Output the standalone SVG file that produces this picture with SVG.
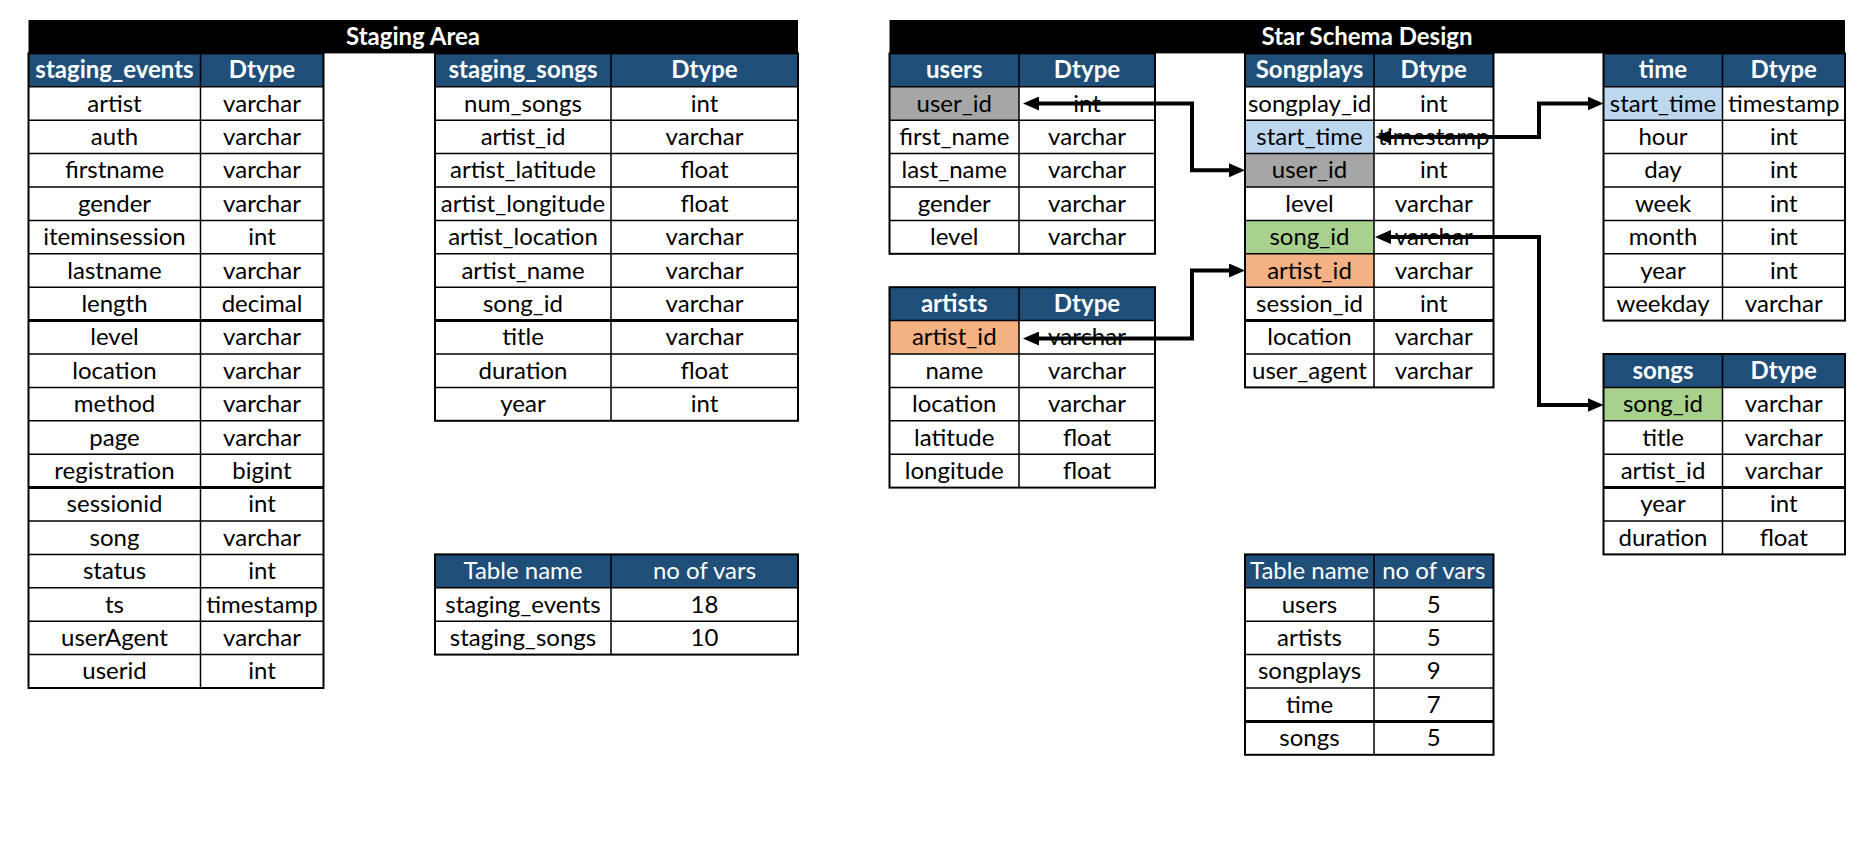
<svg xmlns="http://www.w3.org/2000/svg" width="1875" height="858" viewBox="0 0 1875 858">
<style>
.bg{fill:#fff}
.bar{fill:#000}
.hd{fill:#1F4E79}
.gry{fill:#A6A6A6}
.blu{fill:#BDD7EE}
.grn{fill:#A9D18E}
.org{fill:#F4B183}
.ln{stroke:#000;stroke-width:1.5;fill:none}
.tk{stroke:#000;stroke-width:3;fill:none}
.ob{stroke:#000;stroke-width:2;fill:none}
text{font-family:Lato,"Liberation Sans",sans-serif;font-size:24px;text-anchor:middle;fill:#000}
.th{fill:#fff;font-weight:bold}
.tw{fill:#fff}
.conn{stroke:#000;stroke-width:4;fill:none;marker-start:url(#ah);marker-end:url(#ah)}
</style>
<defs>
<marker id="ah" viewBox="0 0 16 14" markerWidth="16" markerHeight="14" markerUnits="userSpaceOnUse" refX="4" refY="7" orient="auto-start-reverse">
<polygon points="0,0 16,7 0,14" fill="#000"/>
</marker>
</defs>
<rect class="bg" x="0" y="0" width="1875" height="858"/>

<g id="staging-title">
<rect class="bar" x="28.5" y="20" width="769.5" height="33.4"/>
<text class="th" x="413" y="44.7">Staging Area</text>
</g>

<g id="star-title">
<rect class="bar" x="889.5" y="20" width="955.5" height="33.4"/>
<text class="th" x="1367" y="44.7">Star Schema Design</text>
</g>

<g id="staging_events">
<rect class="hd" x="28.5" y="53.4" width="295" height="33.4"/>
<path class="ln" d="M28.5 86.8H323.5M28.5 120.2H323.5M28.5 153.6H323.5M28.5 187H323.5M28.5 220.4H323.5M28.5 253.8H323.5M28.5 287.2H323.5M28.5 354H323.5M28.5 387.4H323.5M28.5 420.8H323.5M28.5 454.2H323.5M28.5 521H323.5M28.5 554.4H323.5M28.5 587.8H323.5M28.5 621.2H323.5M28.5 654.6H323.5M200.5 53.4V688"/>
<path class="tk" d="M28.5 320.6H323.5M28.5 487.6H323.5"/>
<rect class="ob" x="28.5" y="53.4" width="295" height="634.6"/>
<text class="th" x="114.5" y="78.1">staging_events</text><text class="th" x="262" y="78.1">Dtype</text>
<text x="114.5" y="111.5">artist</text><text x="262" y="111.5">varchar</text>
<text x="114.5" y="144.9">auth</text><text x="262" y="144.9">varchar</text>
<text x="114.5" y="178.3">firstname</text><text x="262" y="178.3">varchar</text>
<text x="114.5" y="211.7">gender</text><text x="262" y="211.7">varchar</text>
<text x="114.5" y="245.1">iteminsession</text><text x="262" y="245.1">int</text>
<text x="114.5" y="278.5">lastname</text><text x="262" y="278.5">varchar</text>
<text x="114.5" y="311.9">length</text><text x="262" y="311.9">decimal</text>
<text x="114.5" y="345.3">level</text><text x="262" y="345.3">varchar</text>
<text x="114.5" y="378.7">location</text><text x="262" y="378.7">varchar</text>
<text x="114.5" y="412.1">method</text><text x="262" y="412.1">varchar</text>
<text x="114.5" y="445.5">page</text><text x="262" y="445.5">varchar</text>
<text x="114.5" y="478.9">registration</text><text x="262" y="478.9">bigint</text>
<text x="114.5" y="512.3">sessionid</text><text x="262" y="512.3">int</text>
<text x="114.5" y="545.7">song</text><text x="262" y="545.7">varchar</text>
<text x="114.5" y="579.1">status</text><text x="262" y="579.1">int</text>
<text x="114.5" y="612.5">ts</text><text x="262" y="612.5">timestamp</text>
<text x="114.5" y="645.9">userAgent</text><text x="262" y="645.9">varchar</text>
<text x="114.5" y="679.3">userid</text><text x="262" y="679.3">int</text>
</g>

<g id="staging_songs">
<rect class="hd" x="435" y="53.4" width="363" height="33.4"/>
<path class="ln" d="M435 86.8H798M435 120.2H798M435 153.6H798M435 187H798M435 220.4H798M435 253.8H798M435 287.2H798M435 354H798M435 387.4H798M611 53.4V420.8"/>
<path class="tk" d="M435 320.6H798"/>
<rect class="ob" x="435" y="53.4" width="363" height="367.4"/>
<text class="th" x="523" y="78.1">staging_songs</text><text class="th" x="704.5" y="78.1">Dtype</text>
<text x="523" y="111.5">num_songs</text><text x="704.5" y="111.5">int</text>
<text x="523" y="144.9">artist_id</text><text x="704.5" y="144.9">varchar</text>
<text x="523" y="178.3">artist_latitude</text><text x="704.5" y="178.3">float</text>
<text x="523" y="211.7">artist_longitude</text><text x="704.5" y="211.7">float</text>
<text x="523" y="245.1">artist_location</text><text x="704.5" y="245.1">varchar</text>
<text x="523" y="278.5">artist_name</text><text x="704.5" y="278.5">varchar</text>
<text x="523" y="311.9">song_id</text><text x="704.5" y="311.9">varchar</text>
<text x="523" y="345.3">title</text><text x="704.5" y="345.3">varchar</text>
<text x="523" y="378.7">duration</text><text x="704.5" y="378.7">float</text>
<text x="523" y="412.1">year</text><text x="704.5" y="412.1">int</text>
</g>

<g id="staging_summary">
<rect class="hd" x="435" y="554.4" width="363" height="33.4"/>
<path class="ln" d="M435 587.8H798M435 621.2H798M611 554.4V654.6"/>
<rect class="ob" x="435" y="554.4" width="363" height="100.2"/>
<text class="tw" x="523" y="579.1">Table name</text><text class="tw" x="704.5" y="579.1">no of vars</text>
<text x="523" y="612.5">staging_events</text><text x="704.5" y="612.5">18</text>
<text x="523" y="645.9">staging_songs</text><text x="704.5" y="645.9">10</text>
</g>

<g id="users">
<rect class="hd" x="889.5" y="53.4" width="265.5" height="33.4"/>
<rect class="gry" x="889.5" y="86.8" width="129.5" height="33.4"/>
<path class="ln" d="M889.5 86.8H1155M889.5 120.2H1155M889.5 153.6H1155M889.5 187H1155M889.5 220.4H1155M1019 53.4V253.8"/>
<rect class="ob" x="889.5" y="53.4" width="265.5" height="200.4"/>
<text class="th" x="954.25" y="78.1">users</text><text class="th" x="1087" y="78.1">Dtype</text>
<text x="954.25" y="111.5">user_id</text><text x="1087" y="111.5">int</text>
<text x="954.25" y="144.9">first_name</text><text x="1087" y="144.9">varchar</text>
<text x="954.25" y="178.3">last_name</text><text x="1087" y="178.3">varchar</text>
<text x="954.25" y="211.7">gender</text><text x="1087" y="211.7">varchar</text>
<text x="954.25" y="245.1">level</text><text x="1087" y="245.1">varchar</text>
</g>

<g id="artists">
<rect class="hd" x="889.5" y="287.2" width="265.5" height="33.4"/>
<rect class="org" x="889.5" y="320.6" width="129.5" height="33.4"/>
<path class="ln" d="M889.5 320.6H1155M889.5 354H1155M889.5 387.4H1155M889.5 420.8H1155M889.5 454.2H1155M1019 287.2V487.6"/>
<rect class="ob" x="889.5" y="287.2" width="265.5" height="200.4"/>
<text class="th" x="954.25" y="311.9">artists</text><text class="th" x="1087" y="311.9">Dtype</text>
<text x="954.25" y="345.3">artist_id</text><text x="1087" y="345.3">varchar</text>
<text x="954.25" y="378.7">name</text><text x="1087" y="378.7">varchar</text>
<text x="954.25" y="412.1">location</text><text x="1087" y="412.1">varchar</text>
<text x="954.25" y="445.5">latitude</text><text x="1087" y="445.5">float</text>
<text x="954.25" y="478.9">longitude</text><text x="1087" y="478.9">float</text>
</g>

<g id="songplays">
<rect class="hd" x="1245" y="53.4" width="248.5" height="33.4"/>
<rect class="blu" x="1245" y="120.2" width="129" height="33.4"/>
<rect class="gry" x="1245" y="153.6" width="129" height="33.4"/>
<rect class="grn" x="1245" y="220.4" width="129" height="33.4"/>
<rect class="org" x="1245" y="253.8" width="129" height="33.4"/>
<path class="ln" d="M1245 86.8H1493.5M1245 120.2H1493.5M1245 153.6H1493.5M1245 187H1493.5M1245 220.4H1493.5M1245 253.8H1493.5M1245 287.2H1493.5M1245 354H1493.5M1374 53.4V387.4"/>
<path class="tk" d="M1245 320.6H1493.5"/>
<rect class="ob" x="1245" y="53.4" width="248.5" height="334"/>
<text class="th" x="1309.5" y="78.1">Songplays</text><text class="th" x="1433.75" y="78.1">Dtype</text>
<text x="1309.5" y="111.5">songplay_id</text><text x="1433.75" y="111.5">int</text>
<text x="1309.5" y="144.9">start_time</text><text x="1433.75" y="144.9">timestamp</text>
<text x="1309.5" y="178.3">user_id</text><text x="1433.75" y="178.3">int</text>
<text x="1309.5" y="211.7">level</text><text x="1433.75" y="211.7">varchar</text>
<text x="1309.5" y="245.1">song_id</text><text x="1433.75" y="245.1">varchar</text>
<text x="1309.5" y="278.5">artist_id</text><text x="1433.75" y="278.5">varchar</text>
<text x="1309.5" y="311.9">session_id</text><text x="1433.75" y="311.9">int</text>
<text x="1309.5" y="345.3">location</text><text x="1433.75" y="345.3">varchar</text>
<text x="1309.5" y="378.7">user_agent</text><text x="1433.75" y="378.7">varchar</text>
</g>

<g id="time">
<rect class="hd" x="1603.5" y="53.4" width="241.5" height="33.4"/>
<rect class="blu" x="1603.5" y="86.8" width="119" height="33.4"/>
<path class="ln" d="M1603.5 86.8H1845M1603.5 120.2H1845M1603.5 153.6H1845M1603.5 187H1845M1603.5 220.4H1845M1603.5 253.8H1845M1603.5 287.2H1845M1722.5 53.4V320.6"/>
<rect class="ob" x="1603.5" y="53.4" width="241.5" height="267.2"/>
<text class="th" x="1663" y="78.1">time</text><text class="th" x="1783.75" y="78.1">Dtype</text>
<text x="1663" y="111.5">start_time</text><text x="1783.75" y="111.5">timestamp</text>
<text x="1663" y="144.9">hour</text><text x="1783.75" y="144.9">int</text>
<text x="1663" y="178.3">day</text><text x="1783.75" y="178.3">int</text>
<text x="1663" y="211.7">week</text><text x="1783.75" y="211.7">int</text>
<text x="1663" y="245.1">month</text><text x="1783.75" y="245.1">int</text>
<text x="1663" y="278.5">year</text><text x="1783.75" y="278.5">int</text>
<text x="1663" y="311.9">weekday</text><text x="1783.75" y="311.9">varchar</text>
</g>

<g id="songs">
<rect class="hd" x="1603.5" y="354" width="241.5" height="33.4"/>
<rect class="grn" x="1603.5" y="387.4" width="119" height="33.4"/>
<path class="ln" d="M1603.5 387.4H1845M1603.5 420.8H1845M1603.5 454.2H1845M1603.5 521H1845M1722.5 354V554.4"/>
<path class="tk" d="M1603.5 487.6H1845"/>
<rect class="ob" x="1603.5" y="354" width="241.5" height="200.4"/>
<text class="th" x="1663" y="378.7">songs</text><text class="th" x="1783.75" y="378.7">Dtype</text>
<text x="1663" y="412.1">song_id</text><text x="1783.75" y="412.1">varchar</text>
<text x="1663" y="445.5">title</text><text x="1783.75" y="445.5">varchar</text>
<text x="1663" y="478.9">artist_id</text><text x="1783.75" y="478.9">varchar</text>
<text x="1663" y="512.3">year</text><text x="1783.75" y="512.3">int</text>
<text x="1663" y="545.7">duration</text><text x="1783.75" y="545.7">float</text>
</g>

<g id="star_summary">
<rect class="hd" x="1245" y="554.4" width="248.5" height="33.4"/>
<path class="ln" d="M1245 587.8H1493.5M1245 621.2H1493.5M1245 654.6H1493.5M1245 688H1493.5M1374 554.4V754.8"/>
<path class="tk" d="M1245 721.4H1493.5"/>
<rect class="ob" x="1245" y="554.4" width="248.5" height="200.4"/>
<text class="tw" x="1309.5" y="579.1">Table name</text><text class="tw" x="1433.75" y="579.1">no of vars</text>
<text x="1309.5" y="612.5">users</text><text x="1433.75" y="612.5">5</text>
<text x="1309.5" y="645.9">artists</text><text x="1433.75" y="645.9">5</text>
<text x="1309.5" y="679.3">songplays</text><text x="1433.75" y="679.3">9</text>
<text x="1309.5" y="712.7">time</text><text x="1433.75" y="712.7">7</text>
<text x="1309.5" y="746.1">songs</text><text x="1433.75" y="746.1">5</text>
</g>

<g id="connectors">
<path class="conn" d="M1035 103.5H1192V170.3H1233"/>
<path class="conn" d="M1035 338.5H1192V270.5H1233"/>
<path class="conn" d="M1387 137H1539V103.5H1591.5"/>
<path class="conn" d="M1387 237.1H1539V405H1591.5"/>
</g>
</svg>
